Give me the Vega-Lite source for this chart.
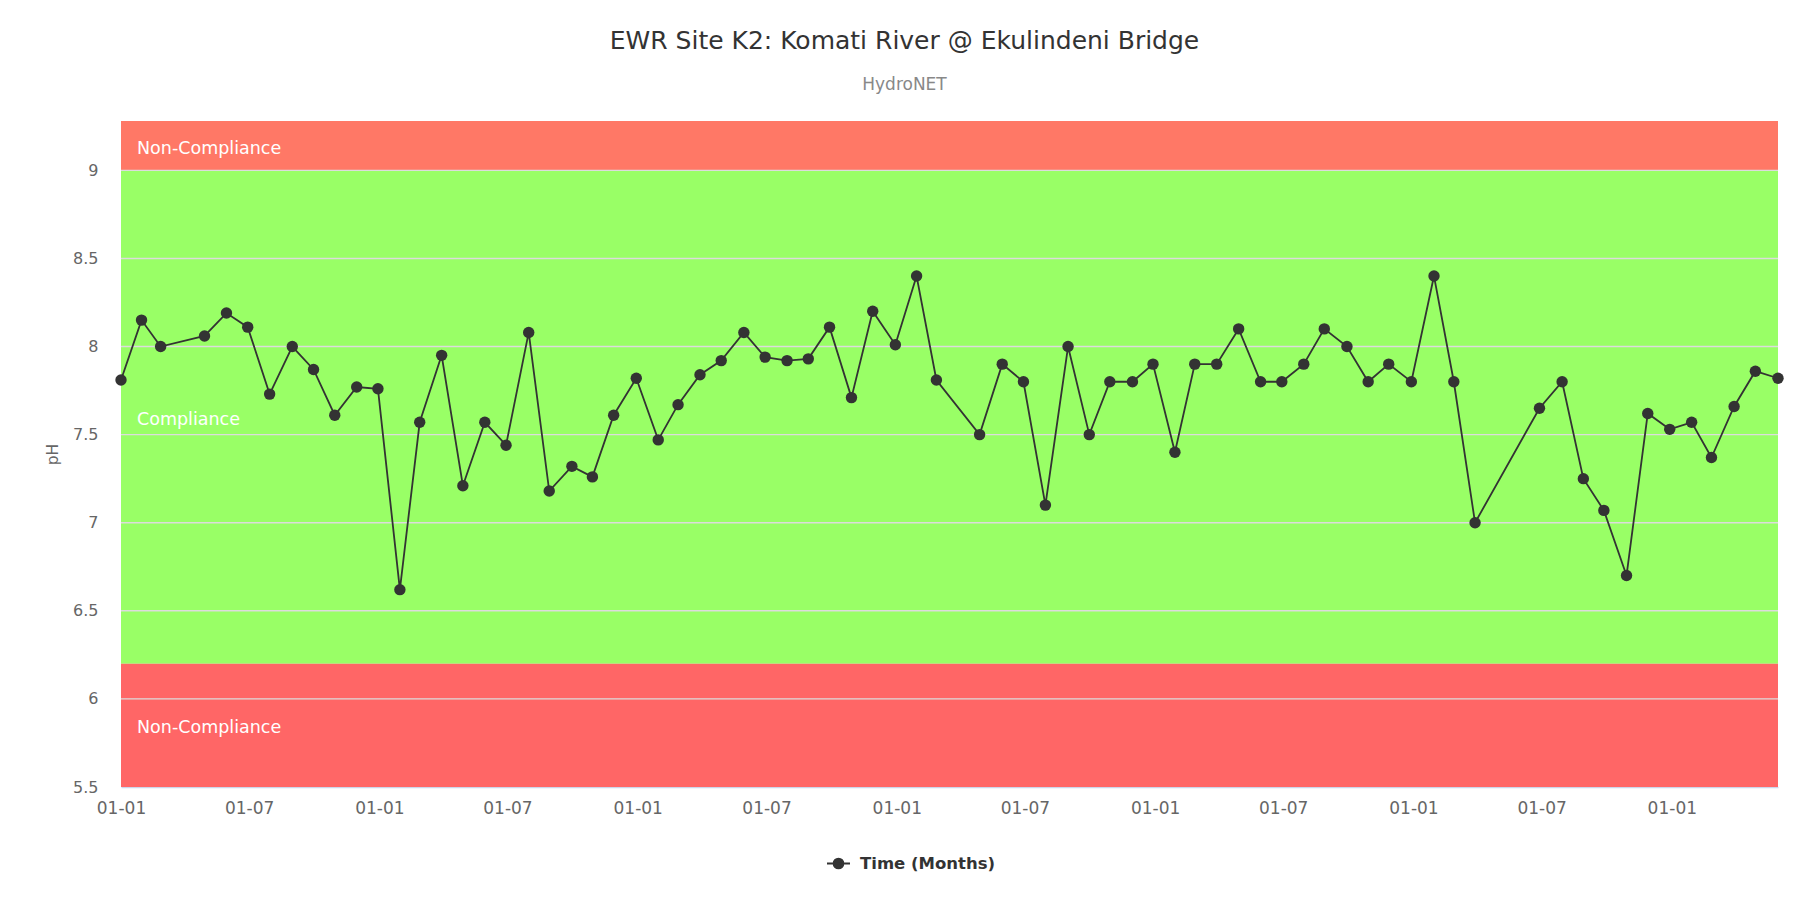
{
  "$schema": "https://vega.github.io/schema/vega-lite/v6.json",
  "width": 1657,
  "height": 666,
  "autosize": {"type": "none"},
  "padding": {"left": 121, "top": 121, "right": 41, "bottom": 126},
  "background": "white",
  "config": {
    "view": {"stroke": null},
    "font": "DejaVu Sans"
  },
  "title": {
    "text": "EWR Site K2: Komati River @ Ekulindeni Bridge",
    "subtitle": "HydroNET",
    "anchor": "middle",
    "frame": "group",
    "dx": -45,
    "offset": 28,
    "font": "DejaVu Sans",
    "fontSize": 25,
    "fontWeight": "normal",
    "color": "#333333",
    "subtitleFont": "DejaVu Sans",
    "subtitleFontSize": 17,
    "subtitleColor": "#888888",
    "subtitlePadding": 23
  },
  "datasets": {
    "bands": [
      {"zone": "upper", "label": "Non-Compliance", "lo": 9.0, "hi": 9.28},
      {"zone": "compliance", "label": "Compliance", "lo": 6.2, "hi": 9.0},
      {"zone": "lower", "label": "Non-Compliance", "lo": 5.5, "hi": 6.2}
    ],
    "grid": [
      {"pH": 6.0}, {"pH": 6.5}, {"pH": 7.0}, {"pH": 7.5}, {"pH": 8.0}, {"pH": 8.5}, {"pH": 9.0}
    ],
    "samples": [
      {"date": "2018-01-01", "pH": 7.81},
      {"date": "2018-01-30", "pH": 8.15},
      {"date": "2018-02-26", "pH": 8.00},
      {"date": "2018-04-29", "pH": 8.06},
      {"date": "2018-05-30", "pH": 8.19},
      {"date": "2018-06-29", "pH": 8.11},
      {"date": "2018-07-30", "pH": 7.73},
      {"date": "2018-08-31", "pH": 8.00},
      {"date": "2018-09-30", "pH": 7.87},
      {"date": "2018-10-30", "pH": 7.61},
      {"date": "2018-11-30", "pH": 7.77},
      {"date": "2018-12-30", "pH": 7.76},
      {"date": "2019-01-30", "pH": 6.62},
      {"date": "2019-02-27", "pH": 7.57},
      {"date": "2019-03-30", "pH": 7.95},
      {"date": "2019-04-29", "pH": 7.21},
      {"date": "2019-05-30", "pH": 7.57},
      {"date": "2019-06-29", "pH": 7.44},
      {"date": "2019-07-31", "pH": 8.08},
      {"date": "2019-08-29", "pH": 7.18},
      {"date": "2019-09-30", "pH": 7.32},
      {"date": "2019-10-29", "pH": 7.26},
      {"date": "2019-11-28", "pH": 7.61},
      {"date": "2019-12-30", "pH": 7.82},
      {"date": "2020-01-30", "pH": 7.47},
      {"date": "2020-02-27", "pH": 7.67},
      {"date": "2020-03-29", "pH": 7.84},
      {"date": "2020-04-28", "pH": 7.92},
      {"date": "2020-05-30", "pH": 8.08},
      {"date": "2020-06-29", "pH": 7.94},
      {"date": "2020-07-30", "pH": 7.92},
      {"date": "2020-08-29", "pH": 7.93},
      {"date": "2020-09-28", "pH": 8.11},
      {"date": "2020-10-29", "pH": 7.71},
      {"date": "2020-11-28", "pH": 8.20},
      {"date": "2020-12-30", "pH": 8.01},
      {"date": "2021-01-29", "pH": 8.40},
      {"date": "2021-02-26", "pH": 7.81},
      {"date": "2021-04-28", "pH": 7.50},
      {"date": "2021-05-30", "pH": 7.90},
      {"date": "2021-06-29", "pH": 7.80},
      {"date": "2021-07-30", "pH": 7.10},
      {"date": "2021-08-31", "pH": 8.00},
      {"date": "2021-09-30", "pH": 7.50},
      {"date": "2021-10-29", "pH": 7.80},
      {"date": "2021-11-30", "pH": 7.80},
      {"date": "2021-12-29", "pH": 7.90},
      {"date": "2022-01-29", "pH": 7.40},
      {"date": "2022-02-26", "pH": 7.90},
      {"date": "2022-03-29", "pH": 7.90},
      {"date": "2022-04-29", "pH": 8.10},
      {"date": "2022-05-30", "pH": 7.80},
      {"date": "2022-06-29", "pH": 7.80},
      {"date": "2022-07-30", "pH": 7.90},
      {"date": "2022-08-28", "pH": 8.10},
      {"date": "2022-09-29", "pH": 8.00},
      {"date": "2022-10-29", "pH": 7.80},
      {"date": "2022-11-27", "pH": 7.90},
      {"date": "2022-12-29", "pH": 7.80},
      {"date": "2023-01-30", "pH": 8.40},
      {"date": "2023-02-27", "pH": 7.80},
      {"date": "2023-03-29", "pH": 7.00},
      {"date": "2023-06-28", "pH": 7.65},
      {"date": "2023-07-30", "pH": 7.80},
      {"date": "2023-08-29", "pH": 7.25},
      {"date": "2023-09-27", "pH": 7.07},
      {"date": "2023-10-29", "pH": 6.70},
      {"date": "2023-11-28", "pH": 7.62},
      {"date": "2023-12-29", "pH": 7.53},
      {"date": "2024-01-29", "pH": 7.57},
      {"date": "2024-02-26", "pH": 7.37},
      {"date": "2024-03-29", "pH": 7.66},
      {"date": "2024-04-28", "pH": 7.86},
      {"date": "2024-05-30", "pH": 7.82}
    ]
  },
  "layer": [
    {
      "data": {"name": "bands"},
      "mark": {"type": "rect"},
      "encoding": {
        "y": {
          "field": "lo", "type": "quantitative",
          "scale": {"domain": [5.5, 9.28], "nice": false, "zero": false},
          "axis": {
            "values": [5.5, 6, 6.5, 7, 7.5, 8, 8.5, 9],
            "format": "~g",
            "grid": false,
            "domain": false,
            "ticks": false,
            "labelFont": "DejaVu Sans",
            "labelFontSize": 16,
            "labelColor": "#666666",
            "labelPadding": 23,
            "title": "pH",
            "titleFont": "DejaVu Sans",
            "titleFontSize": 15.5,
            "titleFontWeight": "normal",
            "titleColor": "#666666",
            "titleX": -69,
            "titleY": 333,
            "titleAngle": 270,
            "titleAlign": "center",
            "titleBaseline": "middle"
          }
        },
        "y2": {"field": "hi"},
        "fill": {
          "field": "zone", "type": "nominal",
          "scale": {"domain": ["upper", "compliance", "lower"], "range": ["#ff7866", "#99ff66", "#ff6666"]},
          "legend": null
        }
      }
    },
    {
      "data": {"name": "grid"},
      "mark": {"type": "rule", "color": "#dcdcdc", "strokeWidth": 1.4},
      "encoding": {
        "y": {"field": "pH", "type": "quantitative"}
      }
    },
    {
      "data": {"name": "bands"},
      "transform": [{"calculate": "(datum.lo + datum.hi) / 2", "as": "mid"}],
      "mark": {"type": "text", "align": "left", "baseline": "middle", "dx": 16, "dy": 3, "color": "#ffffff", "font": "DejaVu Sans", "fontSize": 17.5},
      "encoding": {
        "x": {"datum": {"year": 2018, "month": 1, "date": 1, "utc": true}, "type": "temporal"},
        "y": {"field": "mid", "type": "quantitative"},
        "text": {"field": "label"}
      }
    },
    {
      "data": {"name": "samples"},
      "mark": {"type": "line", "strokeWidth": 1.8, "point": {"filled": true, "size": 130, "opacity": 1}},
      "encoding": {
        "x": {
          "field": "date", "type": "temporal",
          "scale": {"type": "utc", "nice": false},
          "axis": {
            "labelExpr": "utcFormat(datum.value, '%d-%m')",
            "tickCount": {"interval": "month", "step": 6},
            "grid": false,
            "ticks": false,
            "domainColor": "#ccd6eb",
            "domainWidth": 1.4,
            "labelFont": "DejaVu Sans",
            "labelFontSize": 17,
            "labelColor": "#666666",
            "labelPadding": 13,
            "labelFlush": false,
            "labelOverlap": false,
            "title": null
          }
        },
        "y": {"field": "pH", "type": "quantitative"},
        "color": {
          "datum": "Time (Months)",
          "type": "nominal",
          "scale": {"range": ["#333333"]},
          "legend": {
            "title": null,
            "orient": "none",
            "legendX": 705,
            "legendY": 730,
            "padding": 0,
            "symbolType": "M-1,0H1M-0.43,0A0.43,0.43,0,1,0,0.43,0A0.43,0.43,0,1,0,-0.43,0Z",
            "symbolSize": 529,
            "symbolStrokeWidth": 1.8,
            "symbolStrokeColor": "#333333",
            "symbolFillColor": "#333333",
            "labelFont": "DejaVu Sans",
            "labelFontSize": 16.5,
            "labelFontWeight": "bold",
            "labelColor": "#333333",
            "labelOffset": 9
          }
        }
      }
    }
  ]
}
